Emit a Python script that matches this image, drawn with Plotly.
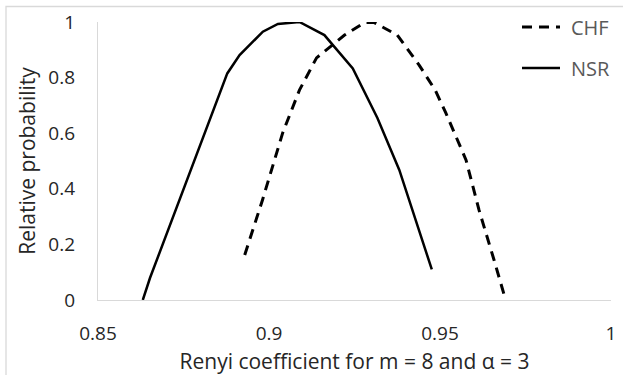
import plotly.graph_objects as go

nsr_x = [0.8631, 0.8652, 0.8878, 0.8914, 0.8982, 0.9026, 0.9089, 0.9162, 0.9245, 0.9317, 0.9381, 0.9476]
nsr_y = [0.0, 0.079, 0.815, 0.881, 0.965, 0.993, 1.0, 0.953, 0.833, 0.655, 0.468, 0.110]

chf_x = [0.8929, 0.8981, 0.9040, 0.9089, 0.9139, 0.9221, 0.9279, 0.9308, 0.9375, 0.9439, 0.9486, 0.9517, 0.9576, 0.9614, 0.9658, 0.9692]
chf_y = [0.162, 0.360, 0.601, 0.755, 0.871, 0.953, 0.998, 0.998, 0.953, 0.845, 0.755, 0.673, 0.504, 0.324, 0.144, 0.0]

x_ticks = [0.85, 0.9, 0.95, 1]
x_tick_labels = ["0.85", "0.9", "0.95", "1"]
y_ticks = [0, 0.2, 0.4, 0.6, 0.8, 1]
y_tick_labels = ["0", "0.2", "0.4", "0.6", "0.8", "1"]

series_names = ["CHF", "NSR"]

FONT = "Open Sans"
TXT = "#262626"
CHF_LINE = dict(color="black", width=3, dash="10px,7px")
NSR_LINE = dict(color="black", width=2.5)

# plot-area geometry (px) used to place the custom legend
L, R, T, B = 98, 12, 22, 75
W, H = 623, 375
PW, PH = W - L - R, H - T - B
def px_x(p):
    return (p - L) / PW
def px_y(p):
    return (H - B - p) / PH

fig = go.Figure()
fig.add_trace(go.Scatter(x=chf_x, y=chf_y, mode="lines", name=series_names[0], line=CHF_LINE))
fig.add_trace(go.Scatter(x=nsr_x, y=nsr_y, mode="lines", name=series_names[1], line=NSR_LINE))

shapes = [dict(type="rect", xref="paper", yref="paper",
               x0=px_x(6), x1=px_x(W + 5), y0=px_y(H + 5), y1=px_y(6.5),
               line=dict(color="#d9d9d9", width=1.3), fillcolor="rgba(0,0,0,0)", layer="below")]
annotations = []
for name, line, ly in [(series_names[0], CHF_LINE, 27), (series_names[1], NSR_LINE, 68)]:
    shapes.append(dict(type="line", xref="paper", yref="paper",
                       x0=px_x(522), x1=px_x(560), y0=px_y(ly), y1=px_y(ly), line=line))
    annotations.append(dict(text=name, xref="paper", yref="paper", x=px_x(569), y=px_y(ly),
                            xanchor="left", yanchor="middle", showarrow=False,
                            font=dict(family=FONT, size=20, color="#595959")))

fig.update_layout(
    width=W, height=H,
    margin=dict(l=L, r=R, t=T, b=B),
    paper_bgcolor="white", plot_bgcolor="white",
    font=dict(family=FONT, size=19, color=TXT),
    showlegend=False,
    xaxis=dict(range=[0.85, 1.0], tickvals=x_ticks, ticktext=x_tick_labels, automargin=False,
               showgrid=False, zeroline=False, showline=True, linecolor="#d9d9d9", linewidth=1.3,
               ticks="", ticklen=0, ticklabelstandoff=16,
               tickfont=dict(family=FONT, size=19, color=TXT),
               title=dict(text="Renyi coefficient for m = 8 and α = 3", standoff=12,
                          font=dict(family=FONT, size=21, color=TXT))),
    yaxis=dict(range=[0, 1.0], tickvals=y_ticks, ticktext=y_tick_labels, automargin=False,
               showgrid=False, zeroline=False, showline=True, linecolor="#d9d9d9", linewidth=1.3,
               ticks="", ticklen=0, ticklabelstandoff=18,
               tickfont=dict(family=FONT, size=19, color=TXT),
               title=dict(text="Relative probability", standoff=6,
                          font=dict(family=FONT, size=21, color=TXT))),
    shapes=shapes,
    annotations=annotations,
)

fig.write_html("out.html")
